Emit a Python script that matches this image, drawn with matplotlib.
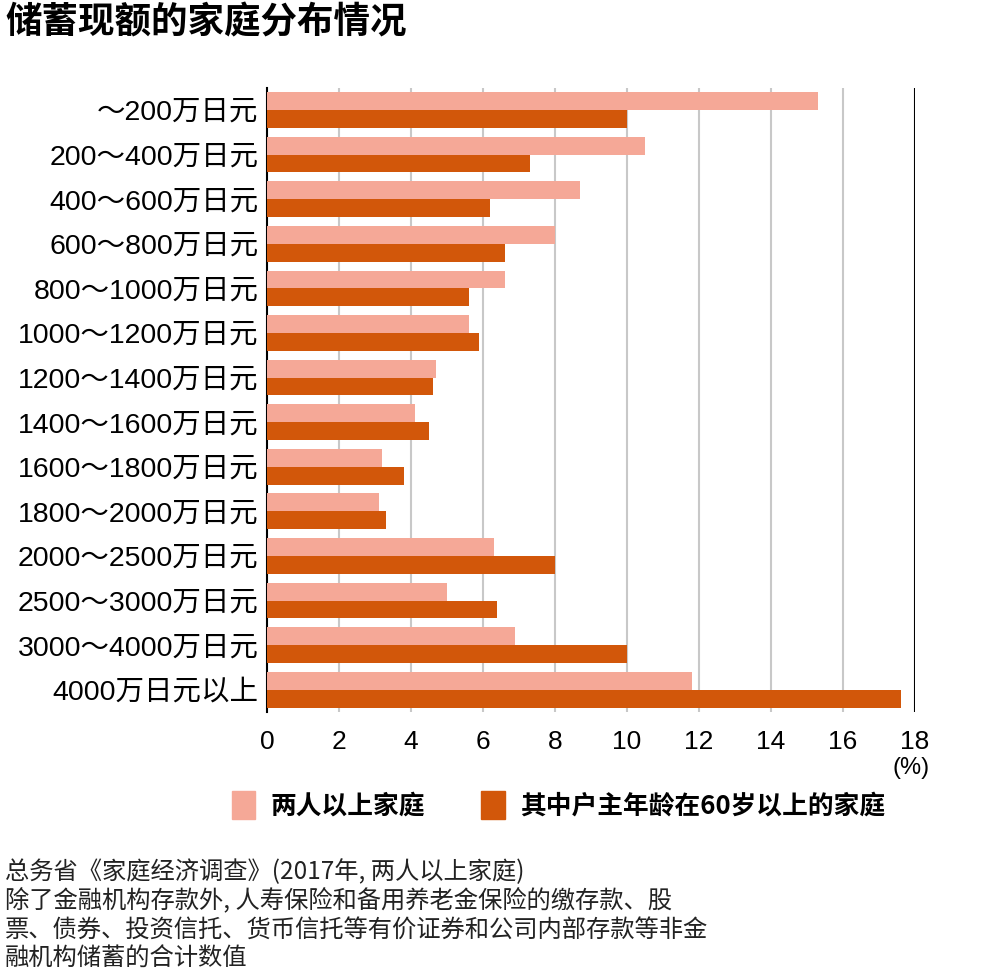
import matplotlib
matplotlib.use("Agg")
import matplotlib.pyplot as plt
import numpy as np

plt.rcParams['font.family'] = ['Noto Sans CJK SC', 'DejaVu Sans']
latin_cjk = ['Liberation Sans', 'Noto Sans CJK SC', 'DejaVu Sans']

# data
categories = ["～200万日元", "200～400万日元", "400～600万日元", "600～800万日元",
              "800～1000万日元", "1000～1200万日元", "1200～1400万日元",
              "1400～1600万日元", "1600～1800万日元", "1800～2000万日元",
              "2000～2500万日元", "2500～3000万日元", "3000～4000万日元",
              "4000万日元以上"]
all_households = [15.3, 10.5, 8.7, 8.0, 6.6, 5.6, 4.7, 4.1, 3.2, 3.1, 6.3, 5.0, 6.9, 11.8]
over60_households = [10.0, 7.3, 6.2, 6.6, 5.6, 5.9, 4.6, 4.5, 3.8, 3.3, 8.0, 6.4, 10.0, 17.6]
series_names = ["两人以上家庭", "其中户主年龄在60岁以上的家庭"]
xticks = [0, 2, 4, 6, 8, 10, 12, 14, 16, 18]

light = "#F5A897"
dark = "#D2570A"

fig = plt.figure(figsize=(9.85, 9.74), dpi=100)
ax = fig.add_axes([0.271, 0.269, 0.658, 0.641])

y = np.arange(len(categories))
h = 0.4
ax.barh(y - h / 2, all_households, height=h, color=light, zorder=3)
ax.barh(y + h / 2, over60_households, height=h, color=dark, zorder=3)

ax.set_xlim(0, 18)
ax.set_ylim(len(categories) - 0.5, -0.5)
ax.set_yticks(y)
ax.set_yticklabels(categories, fontsize=20.5, family=latin_cjk)
ax.set_xticks(xticks)
ax.set_xticklabels([str(t) for t in xticks], fontsize=19, family=latin_cjk)
ax.tick_params(length=0)
ax.tick_params(axis='x', pad=13)
ax.tick_params(axis='y', pad=6)

# grid lines
for t in xticks[1:-1]:
    ax.axvline(t, color="#c8c8c8", lw=1.5, zorder=1)
ax.axvline(18, color="black", lw=1.5, zorder=2)

for s in ["top", "bottom", "right"]:
    ax.spines[s].set_visible(False)
ax.spines["left"].set_linewidth(1.5)

ax.text(1.023, -0.09, "(%)", transform=ax.transAxes, ha="right", va="center",
        fontsize=17, family=latin_cjk)

# title
fig.text(0.005, 0.976, "储蓄现额的家庭分布情况", fontsize=26.3, fontweight="bold",
         ha="left", va="center")

# legend
handles = [plt.Rectangle((0, 0), 1, 1, color=light),
           plt.Rectangle((0, 0), 1, 1, color=dark)]
leg = fig.legend(handles, series_names, loc="center", bbox_to_anchor=(0.567, 0.173),
                 ncol=2, frameon=False, handlelength=0.9, handleheight=1.3,
                 columnspacing=2.2, handletextpad=0.6,
                 prop={"size": 18.5, "weight": "bold"})

# footnote
notes = ["总务省《家庭经济调查》(2017年, 两人以上家庭)",
         "除了金融机构存款外, 人寿保险和备用养老金保险的缴存款、股",
         "票、债券、投资信托、货币信托等有价证券和公司内部存款等非金",
         "融机构储蓄的合计数值"]
for i, line in enumerate(notes):
    fig.text(0.005, 0.1047 - i * 0.0298, line, fontsize=17.5, ha="left", va="center",
             color="#222222")

fig.savefig("out.png", dpi=100)
